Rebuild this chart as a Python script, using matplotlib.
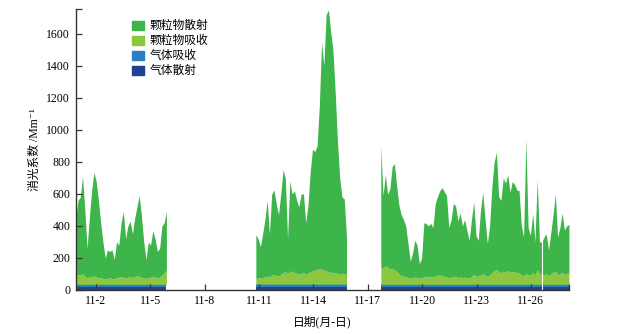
import numpy as np
import matplotlib
matplotlib.use('Agg')
import matplotlib.pyplot as plt
from matplotlib.patches import Patch

plt.rcParams['font.family'] = ['Liberation Serif', 'Noto Sans CJK SC', 'DejaVu Sans']
plt.rcParams['axes.unicode_minus'] = False

# time axis in day-of-November, 3-hourly samples
step = 0.125
seg_starts = [0.9, 10.83, 17.72]

# total extinction (Mm-1)
total1 = [450, 560, 580, 710, 500, 260, 450, 620, 735, 680, 560, 420, 300, 200,
          250, 240, 250, 190, 300, 280, 420, 490, 320, 400, 430, 350, 450, 520,
          590, 460, 300, 190, 300, 280, 370, 320, 240, 260, 400, 420, 490]
total2 = [344, 320, 270, 350, 440, 560, 350, 600, 625, 540, 470, 600, 750, 700,
          320, 680, 600, 620, 560, 520, 600, 600, 420, 530, 740, 880, 865, 900,
          1150, 1550, 1400, 1720, 1750, 1620, 1500, 1240, 930, 700, 580, 570, 330]
total3 = [900, 590, 720, 600, 630, 770, 790, 650, 530, 470, 440, 400, 290, 180,
          230, 310, 280, 165, 200, 420, 415, 400, 417, 390, 540, 583, 620, 640,
          615, 590, 390, 437, 540, 525, 430, 480, 400, 440, 370, 310, 440, 550,
          340, 310, 500, 610, 440, 290, 400, 646, 800, 860, 583, 560, 700, 667,
          720, 610, 677, 660, 625, 620, 400, 333, 940, 390, 340, 479, 300, 690,
          300, 300, 330, 350, 250, 360, 470, 600, 330, 390, 480, 375, 400, 410]

# particle absorption (Mm-1)
pabs1 = [60, 62, 58, 65, 50, 42, 45, 48, 52, 46, 42, 40, 36, 34, 38, 40, 36, 34,
         40, 44, 48, 42, 40, 44, 46, 42, 48, 52, 50, 44, 40, 36, 42, 44, 48, 46,
         40, 46, 55, 70, 90]
pabs2 = [35, 38, 40, 42, 45, 50, 46, 55, 60, 55, 50, 60, 72, 78, 66, 82, 78, 72,
         68, 62, 68, 72, 60, 68, 78, 84, 88, 92, 96, 92, 88, 82, 78, 74, 70, 72,
         66, 64, 68, 64, 60]
pabs3 = [110, 100, 115, 105, 95, 100, 90, 80, 65, 55, 50, 46, 42, 38, 40, 45,
         42, 38, 40, 48, 50, 46, 48, 44, 52, 55, 58, 52, 50, 48, 40, 43, 50, 48,
         42, 46, 42, 44, 40, 38, 48, 60, 52, 50, 58, 66, 56, 48, 58, 72, 86, 92,
         78, 70, 82, 78, 86, 75, 80, 78, 74, 72, 58, 52, 68, 60, 56, 72, 58, 90,
         68, 58, 60, 68, 52, 65, 76, 82, 60, 64, 75, 62, 68, 70]

# gas terms (Mm-1)
gas_sca = [20, 20, 20]
gas_abs = [15, 16, 15]

missing_time = 26.62

c_psca = '#3db54a'
c_pabs = '#8dc63f'
c_gabs = '#2b7fc6'
c_gsca = '#22428f'

fig, ax = plt.subplots(figsize=(6.26, 3.34), dpi=100)
fig.subplots_adjust(left=0.121, right=0.909, top=0.973, bottom=0.132)

for start, tot, pa, gs, ga in zip(seg_starts, [total1, total2, total3],
                                  [pabs1, pabs2, pabs3], gas_sca, gas_abs):
    tot = np.array(tot, dtype=float)
    pa = np.array(pa, dtype=float)
    t = start + step * np.arange(len(tot))
    l1 = np.full_like(tot, gs)
    l2 = l1 + ga
    l3 = l2 + pa
    ax.fill_between(t, 0, l1, color=c_gsca, lw=0)
    ax.fill_between(t, l1, l2, color=c_gabs, lw=0)
    ax.fill_between(t, l2, l3, color=c_pabs, lw=0)
    ax.fill_between(t, l3, tot, color=c_psca, lw=0)

ax.axvline(missing_time, color='white', lw=0.8)

ax.set_xlim(0.9, 28.1)
ax.set_ylim(0, 1756)
xt = [2, 5, 8, 11, 14, 17, 20, 23, 26]
ax.set_xticks(xt)
ax.set_xticklabels(['11-%d' % d for d in xt])
ax.set_xticks([28.1], minor=True)
ax.set_yticks(range(0, 1601, 200))
ax.set_yticks([1756], minor=True)

for s in ['top', 'right']:
    ax.spines[s].set_visible(False)
for s in ['left', 'bottom']:
    ax.spines[s].set_color('#333333')
    ax.spines[s].set_linewidth(1.0)
ax.tick_params(which='both', direction='in', length=4, width=0.9, color='#333333',
               labelsize=8.5, pad=4)

ax.set_ylabel('消光系数 /Mm\u207b\u00b9', fontsize=8.5, labelpad=4)
ax.set_xlabel('日期(月-日)', fontsize=8.5, labelpad=6)

handles = [Patch(color=c_psca), Patch(color=c_pabs), Patch(color=c_gabs), Patch(color=c_gsca)]
labels = ['颗粒物散射', '颗粒物吸收', '气体吸收', '气体散射']
ax.legend(handles, labels, loc='upper left', bbox_to_anchor=(0.1, 0.985), frameon=False,
          fontsize=8.5, handlelength=1.0, handleheight=0.8, handletextpad=0.5,
          labelspacing=0.25, borderaxespad=0.2)

plt.savefig('out.png', dpi=100)
